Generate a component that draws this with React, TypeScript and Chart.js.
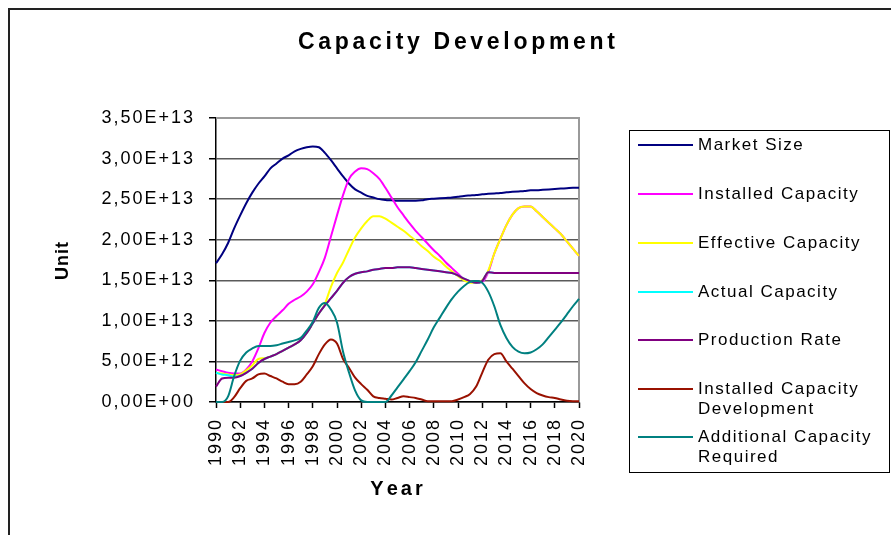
import React, { useEffect, useRef } from 'react';
import { Chart, registerables } from 'chart.js';

Chart.register(...registerables);

const FONT = '"Liberation Sans", Arial, Helvetica, sans-serif';
const UNIT = 1e12;

const TITLE = 'Capacity Development';
const X_TITLE = 'Year';
const Y_TITLE = 'Unit';

const YEARS = [
  1990, 1990.5, 1991, 1991.5, 1992, 1992.5, 1993, 1993.5, 1994, 1994.5,
  1995, 1995.5, 1996, 1996.5, 1997, 1997.5, 1998, 1998.5, 1999, 1999.5,
  2000, 2000.5, 2001, 2001.5, 2002, 2002.5, 2003, 2003.5, 2004, 2004.5,
  2005, 2005.5, 2006, 2006.5, 2007, 2007.5, 2008, 2008.5, 2009, 2009.5,
  2010, 2010.5, 2011, 2011.5, 2012, 2012.5, 2013, 2013.5, 2014, 2014.5,
  2015, 2015.5, 2016, 2016.5, 2017, 2017.5, 2018, 2018.5, 2019, 2019.5,
  2020,
];

// values in units of 1E+12
const MARKET_SIZE = [
  17.1, 18.2, 19.6, 21.4, 23.0, 24.5, 25.8, 26.9, 27.8, 28.8,
  29.4, 30.0, 30.4, 30.9, 31.2, 31.4, 31.5, 31.4, 30.7, 29.8,
  28.8, 27.8, 26.9, 26.2, 25.8, 25.4, 25.2, 25.0, 24.9, 24.85,
  24.8, 24.8, 24.8, 24.8, 24.85, 25.0, 25.05, 25.1, 25.15, 25.2,
  25.3, 25.4, 25.45, 25.5, 25.6, 25.65, 25.7, 25.75, 25.85, 25.9,
  25.95, 26.0, 26.1, 26.1, 26.15, 26.2, 26.25, 26.3, 26.35, 26.4,
  26.4,
];

const INSTALLED_CAPACITY = [
  4.0, 3.8, 3.6, 3.5, 3.5, 4.0, 5.0, 6.6, 8.5, 9.8,
  10.6, 11.3, 12.1, 12.6, 13.0, 13.6, 14.5, 16.0, 17.8, 20.4,
  23.0, 25.5, 27.5, 28.4, 28.8, 28.7, 28.2, 27.5, 26.4, 25.2,
  24.0, 23.0, 22.0, 21.1, 20.3, 19.5, 18.7, 18.0, 17.2, 16.5,
  15.8, 15.1, 14.8, 14.7, 14.8, 16.0, 18.3, 20.1, 21.8, 23.1,
  23.9, 24.1, 24.1, 23.5, 22.8, 22.1, 21.4, 20.7, 19.8, 18.9,
  18.0,
];

const EFFECTIVE_CAPACITY = [
  3.6, 3.5, 3.4, 3.3, 3.4, 3.9, 4.5, 5.3, 5.4, 5.6,
  5.9, 6.3, 6.7, 7.1, 7.6, 8.5, 9.7, 10.9, 12.1, 14.2,
  15.9, 17.2, 18.8, 20.3, 21.4, 22.3, 22.9, 22.9, 22.6, 22.1,
  21.6, 21.1, 20.5, 19.9, 19.2, 18.6, 17.9, 17.4, 16.7, 16.1,
  15.5, 15.0, 14.7, 14.7, 15.0, 16.2, 18.3, 20.1, 21.8, 23.1,
  23.9, 24.1, 24.1, 23.5, 22.8, 22.1, 21.4, 20.7, 19.8, 18.9,
  18.0,
];

const ACTUAL_CAPACITY = [
  3.6, 3.4, 3.3, 3.1, 3.2, 3.6, 4.1, 4.8, 5.3, 5.6,
  5.9, 6.3, 6.7, 7.1, 7.6, 8.5, 9.7, 10.9, 11.9, 12.8,
  13.7, 14.7, 15.4, 15.8, 16.0, 16.1, 16.3, 16.4, 16.5, 16.5,
  16.6, 16.6, 16.6, 16.5, 16.4, 16.3, 16.2, 16.1, 16.0, 15.9,
  15.6, 15.2, 14.9, 14.7, 14.9, 16.0, 15.9, 15.9, 15.9, 15.9,
  15.9, 15.9, 15.9, 15.9, 15.9, 15.9, 15.9, 15.9, 15.9, 15.9,
  15.9,
];

const PRODUCTION_RATE = [
  1.9, 2.9, 3.0, 3.0, 3.2, 3.6, 4.1, 4.8, 5.3, 5.6,
  5.9, 6.3, 6.7, 7.1, 7.6, 8.5, 9.7, 10.9, 11.9, 12.8,
  13.7, 14.7, 15.4, 15.8, 16.0, 16.1, 16.3, 16.4, 16.5, 16.5,
  16.6, 16.6, 16.6, 16.5, 16.4, 16.3, 16.2, 16.1, 16.0, 15.9,
  15.6, 15.2, 14.9, 14.7, 14.9, 16.0, 15.9, 15.9, 15.9, 15.9,
  15.9, 15.9, 15.9, 15.9, 15.9, 15.9, 15.9, 15.9, 15.9, 15.9,
  15.9,
];

const INSTALLED_CAPACITY_DEVELOPMENT = [
  0, 0, 0, 0.6, 1.7, 2.6, 2.9, 3.4, 3.5, 3.2,
  2.9, 2.5, 2.2, 2.2, 2.5, 3.4, 4.4, 5.9, 7.1, 7.7,
  7.2, 5.3, 4.2, 3.0, 2.2, 1.5, 0.7, 0.5, 0.4, 0.3,
  0.5, 0.7, 0.6, 0.5, 0.3, 0.1, 0.1, 0.1, 0.1, 0.1,
  0.3, 0.6, 1.0, 1.9, 3.6, 5.2, 5.9, 6.0, 5.0, 4.1,
  3.2, 2.3, 1.6, 1.1, 0.8, 0.6, 0.5, 0.3, 0.15, 0.1,
  0.1,
];

const ADDITIONAL_CAPACITY_REQUIRED = [
  0, 0, 0.7, 3.2, 5.1, 6.1, 6.6, 6.9, 6.9, 6.9,
  7.0, 7.2, 7.4, 7.6, 7.9, 8.8, 9.9, 11.6, 12.2, 11.4,
  9.8, 6.2, 3.6, 1.4, 0.2, 0, 0, 0, 0, 0.8,
  1.8, 2.8, 3.8, 4.9, 6.3, 7.7, 9.2, 10.4, 11.6, 12.7,
  13.6, 14.3, 14.8, 14.9, 14.7, 13.6, 11.8, 9.5, 7.9, 6.8,
  6.2, 6.0, 6.1, 6.5, 7.1, 8.0, 8.9, 9.8, 10.8, 11.8,
  12.7,
];

const SERIES_NAMES = [
  'Market Size',
  'Installed Capacity',
  'Effective Capacity',
  'Actual Capacity',
  'Production Rate',
  'Installed Capacity Development',
  'Additional Capacity Required',
];

const LEGEND_LINES = [
  ['Market Size'],
  ['Installed Capacity'],
  ['Effective Capacity'],
  ['Actual Capacity'],
  ['Production Rate'],
  ['Installed Capacity', 'Development'],
  ['Additional Capacity', 'Required'],
];

const SERIES_COLORS = ['#000080', '#FF00FF', '#FFFF00', '#00FFFF', '#800080', '#991100', '#008080'];

const SERIES_VALUES = [
  MARKET_SIZE,
  INSTALLED_CAPACITY,
  EFFECTIVE_CAPACITY,
  ACTUAL_CAPACITY,
  PRODUCTION_RATE,
  INSTALLED_CAPACITY_DEVELOPMENT,
  ADDITIONAL_CAPACITY_REQUIRED,
];

function formatSci(v: number): string {
  if (Math.abs(v) < 1) return '0,00E+00';
  const e = Math.floor(Math.log10(v) + 1e-9);
  const m = v / Math.pow(10, e);
  return m.toFixed(2).replace('.', ',') + 'E+' + String(e).padStart(2, '0');
}

function drawSpaced(ctx: CanvasRenderingContext2D, text: string, x: number, y: number, ls: number, align: 'left' | 'center') {
  const chars = Array.from(text);
  const widths = chars.map((ch) => ctx.measureText(ch).width);
  const total = widths.reduce((a, b) => a + b, 0) + ls * (chars.length - 1);
  let cx = align === 'center' ? x - total / 2 : x;
  ctx.textAlign = 'left';
  chars.forEach((ch, i) => {
    ctx.fillText(ch, cx, y);
    cx += widths[i] + ls;
  });
}

const decorPlugin = {
  id: 'decor',
  beforeDraw(chart: any) {
    // spaced-out tick labels like the reference rendering
    (chart.ctx as any).letterSpacing = '2px';
  },
  beforeDatasetsDraw(chart: any) {
    const { ctx, chartArea: a } = chart;
    ctx.save();
    ctx.strokeStyle = '#9a9a9a';
    ctx.lineWidth = 2;
    ctx.beginPath();
    ctx.moveTo(a.left, a.top);
    ctx.lineTo(a.right, a.top);
    ctx.lineTo(a.right, a.bottom);
    ctx.stroke();
    ctx.restore();
  },
  afterDraw(chart: any) {
    const { ctx, chartArea: a } = chart;
    ctx.save();
    (ctx as any).letterSpacing = '0px';
    ctx.fillStyle = '#000';
    ctx.textBaseline = 'alphabetic';

    // title
    ctx.font = `bold 23px ${FONT}`;
    drawSpaced(ctx, TITLE, 456.5, 48.5, 3.7, 'center');

    // x axis title
    ctx.font = `bold 20px ${FONT}`;
    drawSpaced(ctx, X_TITLE, (a.left + a.right) / 2 - 1, 495, 3, 'center');

    // y axis title
    ctx.save();
    ctx.translate(67.5, (a.top + a.bottom) / 2 + 1);
    ctx.rotate(-Math.PI / 2);
    ctx.font = `bold 18px ${FONT}`;
    drawSpaced(ctx, Y_TITLE, 0, 0, 1, 'center');
    ctx.restore();

    // legend box
    ctx.strokeStyle = '#000';
    ctx.lineWidth = 1;
    ctx.strokeRect(629.5, 130.5, 260, 342);

    const itemY = [145, 194, 243, 292, 340, 389, 437];
    ctx.font = `17px ${FONT}`;
    ctx.textBaseline = 'middle';
    chart.data.datasets.forEach((ds: any, i: number) => {
      const y = itemY[i];
      ctx.strokeStyle = ds.borderColor;
      ctx.lineWidth = 2;
      ctx.beginPath();
      ctx.moveTo(638, y);
      ctx.lineTo(693, y);
      ctx.stroke();
      ctx.fillStyle = '#000';
      LEGEND_LINES[i].forEach((line, j) => {
        drawSpaced(ctx, line, 698, y + j * 20.5, 1.5, 'left');
      });
    });
    ctx.restore();
  },
};

export default function App() {
  const ref = useRef<HTMLCanvasElement>(null);

  useEffect(() => {
    if (!ref.current) return;
    const datasets = SERIES_NAMES.map((name, i) => ({
      label: name,
      data: YEARS.map((yr, k) => ({ x: yr, y: SERIES_VALUES[i][k] * UNIT })),
      borderColor: SERIES_COLORS[i],
      backgroundColor: SERIES_COLORS[i],
      borderWidth: 2,
      pointRadius: 0,
      fill: false,
      cubicInterpolationMode: 'monotone' as const,
      order: SERIES_NAMES.length - 1 - i,
      clip: 4,
    }));

    const chart = new Chart(ref.current, {
      type: 'line',
      data: { datasets },
      options: {
        responsive: false,
        animation: false,
        devicePixelRatio: 1,
        layout: { padding: { top: 118, right: 312, bottom: 0, left: 0 } },
        plugins: {
          legend: { display: false },
          title: { display: false },
          tooltip: { enabled: false },
        },
        scales: {
          x: {
            type: 'linear',
            min: 1990,
            max: 2020,
            afterFit: (s: any) => {
              s.height = 133;
            },
            grid: {
              display: true,
              drawOnChartArea: false,
              drawTicks: true,
              tickLength: 6,
              tickColor: '#000',
              tickWidth: 1.5,
            },
            border: { display: true, color: '#000', width: 1.5 },
            ticks: {
              stepSize: 2,
              autoSkip: false,
              minRotation: 90,
              maxRotation: 90,
              padding: 10,
              color: '#000',
              font: { size: 18, family: FONT },
              callback: (v: any) => String(v),
            },
          },
          y: {
            type: 'linear',
            min: 0,
            max: 35 * UNIT,
            afterFit: (s: any) => {
              s.width = 216;
            },
            grid: {
              color: '#5a5a5a',
              lineWidth: 1.5,
              drawTicks: true,
              tickLength: 7,
              tickColor: '#000',
              tickWidth: 1.5,
            },
            border: { display: true, color: '#000', width: 1.5 },
            ticks: {
              stepSize: 5 * UNIT,
              padding: 14,
              color: '#000',
              font: { size: 18, family: FONT },
              callback: (v: any) => formatSci(Number(v)),
            },
          },
        },
      },
      plugins: [decorPlugin],
    } as any);

    return () => chart.destroy();
  }, []);

  return (
    <div>
      <div
        style={{
          position: 'fixed',
          left: 8,
          top: 8,
          right: 0,
          bottom: 0,
          borderLeft: '2px solid #222',
          borderTop: '2px solid #222',
        }}
      />
      <canvas
        ref={ref}
        width={891}
        height={535}
        style={{ position: 'fixed', left: 0, top: 0, width: 891, height: 535 }}
      />
    </div>
  );
}
